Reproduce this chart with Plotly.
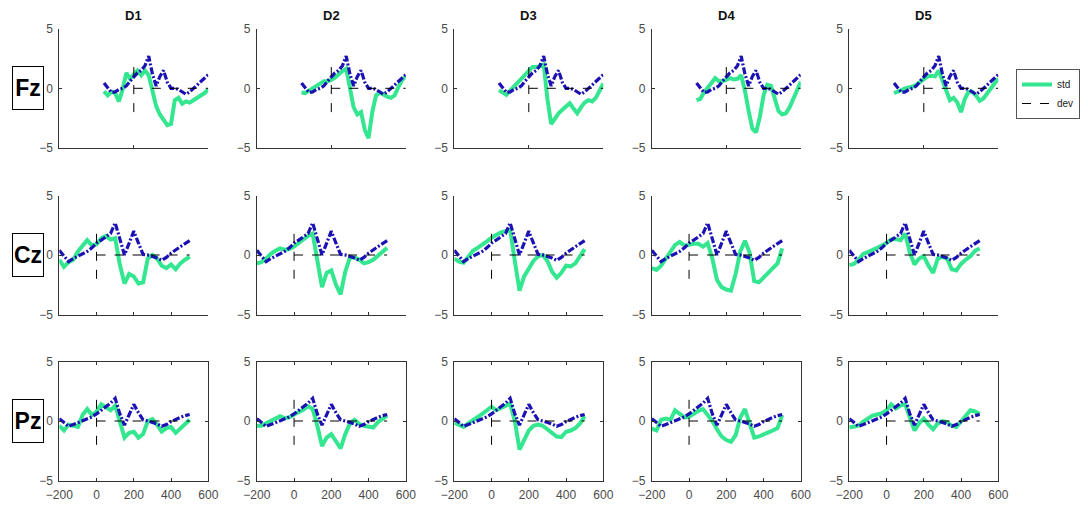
import plotly.graph_objects as go

# ---------------- data ----------------
times = list(range(-200, 501, 25))  # ms
columns = ["D1", "D2", "D3", "D4", "D5"]
rows = ["Fz", "Cz", "Pz"]

dev_Fz = [0.45, 0.0, -0.35, -0.3, -0.1, 0.0, 0.2, 0.6, 1.0, 1.3, 1.5, 1.9, 2.7, 1.2, 0.2,
          1.0, 1.5, 0.5, 0.0, 0.0, -0.1, -0.3, -0.5, -0.3, 0.0, 0.3, 0.6, 0.9, 1.15]
dev_Cz = [0.4, -0.1, -0.55, -0.3, -0.1, 0.1, 0.3, 0.6, 1.0, 1.25, 1.5, 1.8, 2.7, 1.3, 0.0,
          1.0, 2.0, 1.0, 0.05, 0.0, -0.1, -0.25, -0.45, -0.2, 0.15, 0.45, 0.7, 0.95, 1.2]
dev_Pz = [0.2, -0.1, -0.45, -0.3, -0.15, 0.0, 0.15, 0.35, 0.6, 0.9, 1.2, 1.5, 1.9, 0.6, -0.35,
          0.6, 1.4, 0.7, 0.1, 0.0, -0.1, -0.25, -0.45, -0.3, -0.05, 0.15, 0.3, 0.45, 0.55]

std_Fz_D1 = [-0.25, -0.6, -0.3, -0.4, -1.1, -0.1, 1.3, 0.8, 1.2, 1.5, 1.1, 1.5, 1.1, -0.2, -1.5,
             -2.2, -2.7, -3.1, -3.0, -1.0, -0.8, -1.3, -1.1, -1.2, -1.0, -0.8, -0.65, -0.4, -0.1]
std_Fz_D2 = [-0.35, -0.4, -0.2, 0.0, 0.2, 0.35, 0.6, 0.6, 0.7, 0.9, 1.2, 1.45, 1.65, 0.2, -1.6,
             -2.2, -2.0, -3.5, -4.2, -2.0, -0.6, -0.35, -0.55, -0.7, -0.8, -0.6, 0.1, 0.7, 1.0]
std_Fz_D3 = [-0.15, -0.4, -0.55, -0.2, 0.15, 0.4, 0.8, 1.2, 1.45, 1.8, 1.8, 1.85, 2.0, -0.9, -3.0,
             -2.5, -2.1, -1.8, -1.5, -1.25, -1.7, -2.1, -1.6, -1.2, -1.0, -1.1, -0.8, -0.2, 0.4]
std_Fz_D4 = [-1.0, -0.9, -0.35, 0.1, 0.45, 0.85, 0.6, 0.6, 0.7, 0.85, 0.75, 0.8, 1.1, -0.2, -1.9,
             -3.4, -3.7, -2.4, -0.6, 0.3, 0.2, -0.8, -1.9, -2.2, -2.1, -1.6, -0.9, -0.3, 0.55]
std_Fz_D5 = [-0.4, -0.3, -0.15, 0.0, 0.05, 0.15, 0.3, 0.55, 0.85, 1.0, 1.05, 1.0, 1.5, 0.6, -0.3,
             -1.0, -0.8, -1.2, -2.0, -0.9, -0.3, -0.3, -0.6, -1.05, -0.85, -0.4, 0.0, 0.4, 0.8]

std_Cz_D1 = [-0.4, -1.0, -0.6, -0.4, 0.3, 0.8, 1.25, 0.8, 0.9, 1.4, 1.6, 1.3, 1.4, -0.8, -2.4,
             -1.6, -1.8, -2.4, -2.3, -0.3, 0.0, -0.3, -0.9, -1.1, -0.8, -1.2, -0.7, -0.4, -0.15]
std_Cz_D2 = [-0.7, -0.6, -0.3, 0.1, 0.35, 0.55, 0.45, 0.5, 0.7, 1.0, 1.4, 1.6, 1.8, -0.3, -2.7,
             -1.5, -1.3, -2.5, -3.3, -1.4, -0.2, -0.2, -0.4, -0.7, -0.6, -0.4, -0.1, 0.3, 0.6]
std_Cz_D3 = [-0.3, -0.55, -0.65, -0.1, 0.35, 0.6, 0.85, 1.15, 1.45, 1.7, 1.9, 2.0, 2.1, -0.5, -3.0,
             -1.8, -1.1, -0.5, -0.1, 0.0, -0.5, -1.4, -1.9, -1.5, -0.9, -0.95, -0.7, -0.1, 0.5]
std_Cz_D4 = [-1.1, -1.25, -0.9, -0.3, 0.4, 0.85, 1.1, 0.8, 0.85, 0.95, 0.95, 0.7, 1.0, -0.3, -2.1,
             -2.7, -2.9, -3.0, -1.6, 0.3, 1.2, 0.2, -2.2, -2.3, -1.9, -1.5, -1.2, -0.7, 0.55]
std_Cz_D5 = [-0.85, -0.75, -0.4, 0.1, 0.25, 0.4, 0.6, 0.8, 1.0, 1.3, 1.35, 1.25, 1.8, 0.2, -0.8,
             -0.3, -0.1, -0.9, -1.5, -0.3, -0.15, -0.3, -1.2, -1.3, -0.75, -0.4, -0.1, 0.35, 0.55]

std_Pz_D1 = [-0.4, -0.8, -0.3, -0.4, -0.5, 0.5, 1.0, 0.5, 0.8, 1.4, 1.1, 0.9, 1.3, -0.2, -1.4,
             -1.0, -0.9, -1.4, -1.1, 0.0, 0.15, -0.3, -0.9, -0.6, -0.5, -1.0, -0.6, -0.2, 0.1]
std_Pz_D2 = [-0.4, -0.4, -0.2, 0.0, 0.2, 0.4, 0.25, 0.3, 0.55, 0.75, 0.95, 1.25, 1.0, -0.4, -2.1,
             -1.4, -1.1, -1.7, -2.3, -1.1, -0.2, 0.1, -0.25, -0.4, -0.45, -0.55, -0.1, 0.2, 0.45]
std_Pz_D3 = [-0.15, -0.35, -0.5, -0.2, 0.05, 0.3, 0.6, 0.9, 1.2, 0.9, 1.1, 1.3, 1.45, 0.0, -2.4,
             -1.6, -0.8, -0.4, -0.3, -0.4, -0.7, -1.0, -1.3, -1.35, -0.9, -0.8, -0.6, -0.2, 0.4]
std_Pz_D4 = [-0.65, -0.8, 0.1, 0.2, 0.1, 0.9, 0.6, 0.3, 0.35, 0.6, 0.85, 1.0, 0.5, 0.0, -0.7,
             -1.3, -1.6, -1.75, -1.2, 0.3, 1.0, -0.1, -1.4, -1.3, -1.1, -0.95, -0.8, -0.6, 0.5]
std_Pz_D5 = [-0.55, -0.5, -0.4, -0.05, 0.2, 0.45, 0.55, 0.65, 0.9, 1.4, 1.05, 1.3, 1.4, 0.4, -0.8,
             -0.2, 0.2, -0.3, -0.7, -0.2, 0.0, -0.1, -0.4, -0.5, 0.0, 0.5, 0.9, 0.8, 0.6]

std_data = {
    "Fz": [std_Fz_D1, std_Fz_D2, std_Fz_D3, std_Fz_D4, std_Fz_D5],
    "Cz": [std_Cz_D1, std_Cz_D2, std_Cz_D3, std_Cz_D4, std_Cz_D5],
    "Pz": [std_Pz_D1, std_Pz_D2, std_Pz_D3, std_Pz_D4, std_Pz_D5],
}
dev_data = {"Fz": dev_Fz, "Cz": dev_Cz, "Pz": dev_Pz}

cross_vx = [0, 0]
cross_vy = [-2, 2]
cross_hx = [0, 500]
cross_hy = [0, 0]

x_ranges = {"Fz": [-500, 500], "Cz": [-200, 600], "Pz": [-200, 600]}
x_ticks = {"Fz": [-500, 0, 500], "Cz": [-200, 0, 200, 400, 600], "Pz": [-200, 0, 200, 400, 600]}
y_ticks = [-5, 0, 5]

# ---------------- layout geometry (pixels) ----------------
W, H = 1088, 511
col_left = [59.3, 256.8, 454.3, 651.8, 849.3]
col_w = 149
row_top = [28.8, 195.5, 361.5]
row_h = 119

GREEN = "#34e690"
BLUE = "#1c12b4"
AX = "#333333"
LBL = "#4a4a4a"
FONT = "Liberation Sans, Arial, sans-serif"

fig = go.Figure()
layout = dict(
    width=W, height=H,
    margin=dict(l=0, r=0, t=0, b=0, autoexpand=False),
    paper_bgcolor="white", plot_bgcolor="white",
    font=dict(family=FONT, size=12, color=LBL),
    showlegend=True,
    legend=dict(x=1016 / W, y=1 - 69 / H, xanchor="left", yanchor="top",
                bgcolor="white", bordercolor="#555555", borderwidth=1,
                font=dict(size=10, color="#222222", family=FONT),
                tracegroupgap=0, itemwidth=30),
)
annotations = []

for r, rname in enumerate(rows):
    for c, cname in enumerate(columns):
        k = r * 5 + c + 1
        xa = "x" if k == 1 else f"x{k}"
        ya = "y" if k == 1 else f"y{k}"
        x0 = col_left[c] / W
        x1 = (col_left[c] + col_w) / W
        y1 = 1 - row_top[r] / H
        y0 = 1 - (row_top[r] + row_h) / H
        boxed = rname == "Pz"
        layout["xaxis" if k == 1 else f"xaxis{k}"] = dict(
            domain=[x0, x1], anchor=ya, range=x_ranges[rname],
            tickvals=x_ticks[rname], showticklabels=boxed,
            ticks="inside", ticklen=3, tickcolor=AX,
            showline=True, linecolor=AX, linewidth=1,
            mirror="ticks" if boxed else False,
            showgrid=False, zeroline=False, ticklabelstandoff=3,
            tickfont=dict(size=12, color=LBL), fixedrange=True,
        )
        layout["yaxis" if k == 1 else f"yaxis{k}"] = dict(
            domain=[y0, y1], anchor=xa, range=[-5, 5],
            tickvals=y_ticks, ticks="inside", ticklen=3, tickcolor=AX,
            showline=True, linecolor=AX, linewidth=1,
            mirror="ticks" if boxed else False,
            showgrid=False, zeroline=False, ticklabelstandoff=3,
            tickfont=dict(size=12, color=LBL), fixedrange=True,
        )
        first = (k == 1)
        fig.add_trace(go.Scatter(
            x=times, y=std_data[rname][c], xaxis=xa, yaxis=ya, mode="lines",
            line=dict(color=GREEN, width=4), name="std",
            showlegend=first, legendrank=1, hoverinfo="skip"))
        fig.add_trace(go.Scatter(
            x=times, y=dev_data[rname], xaxis=xa, yaxis=ya, mode="lines",
            line=dict(color=BLUE, width=3.2, dash="7px,2px,2px,2px"), name="dev_wave",
            showlegend=False, hoverinfo="skip"))
        fig.add_trace(go.Scatter(
            x=cross_hx, y=cross_hy, xaxis=xa, yaxis=ya, mode="lines",
            line=dict(color="black", width=1, dash="dash"), name="dev",
            showlegend=first, legendrank=2, hoverinfo="skip"))
        fig.add_trace(go.Scatter(
            x=cross_vx, y=cross_vy, xaxis=xa, yaxis=ya, mode="lines",
            line=dict(color="black", width=1, dash="dash"),
            showlegend=False, hoverinfo="skip"))
        if r == 0:
            annotations.append(dict(
                text=f"<b>{cname}</b>", xref="paper", yref="paper",
                x=(col_left[c] + col_w / 2) / W, y=1 - 15 / H,
                xanchor="center", yanchor="middle", showarrow=False,
                font=dict(size=13, color="#111111", family=FONT)))
    # row label box centred on y=0 of the row
    annotations.append(dict(
        text=f"<b>{rname}</b>", xref="paper", yref="paper",
        x=28 / W, y=1 - (row_top[r] + row_h / 2) / H,
        xanchor="center", yanchor="middle", showarrow=False,
        width=30, height=42, borderpad=0, borderwidth=1, bordercolor="black",
        bgcolor="white", font=dict(size=23, color="black", family=FONT)))

layout["annotations"] = annotations
fig.update_layout(**layout)
fig.write_html("out.html", config={"displayModeBar": False},
               post_script="document.body.style.margin='0';")
